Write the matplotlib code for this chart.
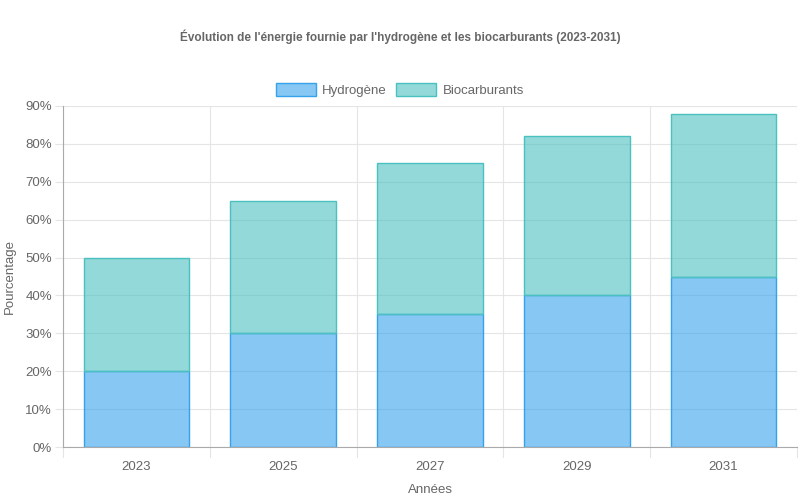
import numpy as np
import matplotlib
matplotlib.use("Agg")
import matplotlib.pyplot as plt
from matplotlib.ticker import MultipleLocator, FuncFormatter

# data
years = ["2023", "2025", "2027", "2029", "2031"]
hydrogene = [20, 30, 35, 40, 45]
biocarburants = [30, 35, 40, 42, 43]

plt.rcParams['font.family'] = ['Liberation Sans', 'DejaVu Sans']
text_col = "#666666"

fig = plt.figure(figsize=(8, 5), dpi=100)
ax = fig.add_axes([0.079, 0.106, 0.917, 0.682])

x = np.arange(len(years))
w = 0.72
ax.bar(x, hydrogene, width=w, color=(54/255, 162/255, 235/255, 0.6),
       edgecolor=(54/255, 162/255, 235/255), linewidth=1, label="Hydrogène", zorder=2)
ax.bar(x, biocarburants, width=w, bottom=hydrogene, color=(75/255, 192/255, 192/255, 0.6),
       edgecolor=(75/255, 192/255, 192/255), linewidth=1, label="Biocarburants", zorder=2)

ax.set_xlim(-0.5, len(years) - 0.5)
ax.set_ylim(0, 90)
ax.yaxis.set_major_locator(MultipleLocator(10))
ax.yaxis.set_major_formatter(FuncFormatter(lambda v, p: f"{int(v)}%"))
ax.set_xticks(x)
ax.set_xticklabels(years)

# vertical grid at category boundaries
for b in np.arange(-0.5, len(years), 1.0):
    ax.axvline(b, color="#e5e5e5", linewidth=0.8, zorder=0)
    ax.plot([b, b], [0, -0.03], transform=ax.get_xaxis_transform(), color="#e5e5e5",
            linewidth=0.8, clip_on=False)
ax.yaxis.grid(True, color="#e5e5e5", linewidth=0.8, zorder=0)

for s in ["top", "right"]:
    ax.spines[s].set_visible(False)
for s in ["left", "bottom"]:
    ax.spines[s].set_color("#aaaaaa")
ax.tick_params(axis="x", length=0, pad=10, labelsize=9.5, colors=text_col)
ax.tick_params(axis="y", length=6, color="#e5e5e5", pad=2, labelsize=9.5, colors=text_col)

ax.set_xlabel("Années", color=text_col, fontsize=9.5, labelpad=8)
ax.set_ylabel("Pourcentage", color=text_col, fontsize=9.5, labelpad=7)

fig.text(0.5, 0.926, "Évolution de l'énergie fournie par l'hydrogène et les biocarburants (2023-2031)",
         ha="center", va="center", fontsize=8.5, fontweight="bold", color=text_col)

fig.legend(loc="center", bbox_to_anchor=(0.5, 0.82), ncol=2, frameon=False,
           fontsize=9.5, labelcolor=text_col, handlelength=3.0, handleheight=1.1,
           columnspacing=0.7, handletextpad=0.5)

plt.savefig("out.png", dpi=100)
